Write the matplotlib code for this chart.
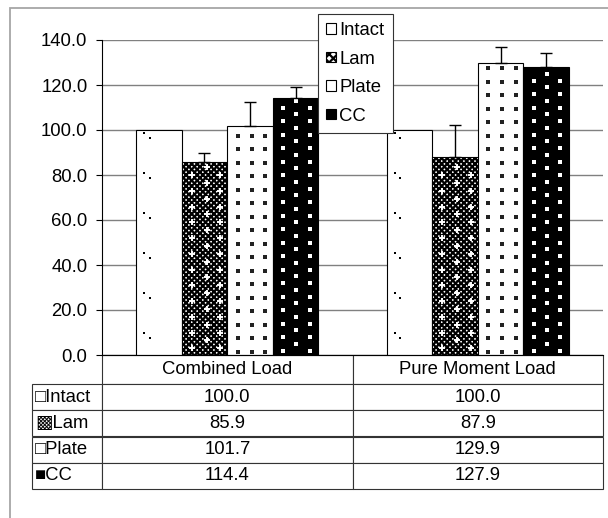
import numpy as np
import matplotlib
matplotlib.use("Agg")
import matplotlib.pyplot as plt
from matplotlib.patches import Patch, Rectangle
from matplotlib.table import Table

# datos
categorias = ["Combined Load", "Pure Moment Load"]
series = ["Intact", "Lam", "Plate", "CC"]
claves = ["□", "▩", "□", "■"]
intact = [100.0, 100.0]
lam = [85.9, 87.9]
plate = [101.7, 129.9]
cc = [114.4, 127.9]
lam_err = [3.9, 14.3]
plate_err = [10.9, 6.8]
cc_err = [4.6, 6.5]

fuente = ["Liberation Sans", "DejaVu Sans"]
tam = 13.3
plt.rcParams["font.family"] = fuente
plt.rcParams["font.size"] = tam
plt.rcParams["hatch.linewidth"] = 1.6

W, H = 608, 518
fig = plt.figure(figsize=(W / 100, H / 100), dpi=100)
ax = fig.add_axes([102 / W, 1 - 355 / H, 501 / W, 315 / H])

x = np.arange(len(categorias))
ancho = 1 / 5.5

b_int = ax.bar(x - 1.5 * ancho, intact, ancho, facecolor="white", edgecolor="black", lw=0.8, zorder=2)
b_lam = ax.bar(x - 0.5 * ancho, lam, ancho, facecolor="white", edgecolor="black", hatch="xxxxxx", lw=0.8, zorder=2)
b_pla = ax.bar(x + 0.5 * ancho, plate, ancho, facecolor="white", edgecolor="black", lw=0.8, zorder=2)
b_cc = ax.bar(x + 1.5 * ancho, cc, ancho, facecolor="black", edgecolor="black", lw=0.8, zorder=2)


# texturas dentro de las barras (posiciones sacadas de cada barra)
def textura(barras, cols, paso, inicio, desfase=0, **kw):
    for b in barras:
        x0, w, h = b.get_x(), b.get_width(), b.get_height()
        for j, f in enumerate(cols):
            off = desfase if j % 2 == 1 else 0
            ys = np.arange(inicio + off, h - 1, paso)
            ax.plot(np.full(len(ys), x0 + f * w), ys, ls="none", zorder=3, **kw)


textura(b_int, [0.18], 17.8, 9.8, marker="s", ms=1.6, color="black", mew=0)
textura(b_int, [0.30], 17.8, 7.6, marker="s", ms=1.6, color="black", mew=0)
textura(b_lam, [0.22, 0.55, 0.85], 7, 3, 3.5, marker="+", ms=5, color="white", mew=1.4)
textura(b_pla, [0.23, 0.54, 0.83], 6, 1.5, marker="s", ms=3.0, color="#222222", mew=0)
textura(b_cc, [0.23, 0.52, 0.81], 6, 2, 3, marker="s", ms=2.2, color="white", mew=0)

# barras de error (solo hacia arriba)
for barras, vals, errs in [(b_lam, lam, lam_err), (b_pla, plate, plate_err), (b_cc, cc, cc_err)]:
    xs = [b.get_x() + b.get_width() / 2 for b in barras]
    ax.errorbar(xs, vals, yerr=[np.zeros(len(errs)), errs], fmt="none",
                ecolor="black", elinewidth=1, capsize=4, capthick=1, zorder=4)

ax.set_xlim(-0.5, 1.5)
ax.set_ylim(0, 140)
ax.set_yticks(np.arange(0, 141, 20))
ax.yaxis.set_major_formatter(matplotlib.ticker.FormatStrFormatter("%.1f"))
ax.set_xticks([])
ax.grid(axis="y", color="#808080", lw=1.0)
ax.set_axisbelow(True)
for s in ["top", "right"]:
    ax.spines[s].set_visible(False)
ax.spines["left"].set_linewidth(0.8)
ax.spines["bottom"].set_linewidth(0.8)
ax.tick_params(axis="y", direction="out", length=4.5, width=0.8, pad=6, labelsize=tam)

# tabla de datos bajo el grafico
ancho_lab = 70 / 250.5
h0, h1 = 29, 26.25
tabla = Table(ax, bbox=[-70 / 501, -134 / 315, 571 / 501, 134 / 315])
c = tabla.add_cell(0, 0, ancho_lab, h0, text="", loc="left")
c.visible_edges = "open"
for j, cat in enumerate(categorias):
    tabla.add_cell(0, j + 1, 1, h0, text=cat, loc="center")
valores = [intact, lam, plate, cc]
for i, nombre in enumerate(series):
    c = tabla.add_cell(i + 1, 0, ancho_lab, h1, text=claves[i] + nombre, loc="left")
    c.PAD = 0.04
    for j in range(len(categorias)):
        tabla.add_cell(i + 1, j + 1, 1, h1, text=f"{valores[i][j]:.1f}", loc="center")
tabla.auto_set_font_size(False)
tabla.set_fontsize(tam)
for celda in tabla.get_celld().values():
    celda.set_edgecolor("#333333")
    celda.set_linewidth(0.8)
    celda.get_text().set_fontfamily(fuente)
ax.add_table(tabla)

# leyenda
manijas = [
    Patch(facecolor="white", edgecolor="black", lw=0.8),
    Patch(facecolor="white", edgecolor="black", hatch="xxxx", lw=0.8),
    Patch(facecolor="white", edgecolor="black", lw=0.8),
    Patch(facecolor="black", edgecolor="black", lw=0.8),
]
ley = fig.legend(manijas, series, loc="upper left", bbox_to_anchor=(318 / W, 1 - 14 / H),
                 fancybox=False, edgecolor="#333333", framealpha=1,
                 handlelength=0.5, handleheight=0.5, handletextpad=0.2,
                 labelspacing=0.62, borderpad=0.45, borderaxespad=0,
                 prop={"family": fuente, "size": tam})
ley.get_frame().set_linewidth(0.8)

# marco exterior del grafico
fig.add_artist(Rectangle((10 / W, -0.1), 2, 1 - 8 / H + 0.1, transform=fig.transFigure,
                         fill=False, edgecolor="#a6a6a6", lw=1.3))

fig.savefig("out.png", dpi=100)
